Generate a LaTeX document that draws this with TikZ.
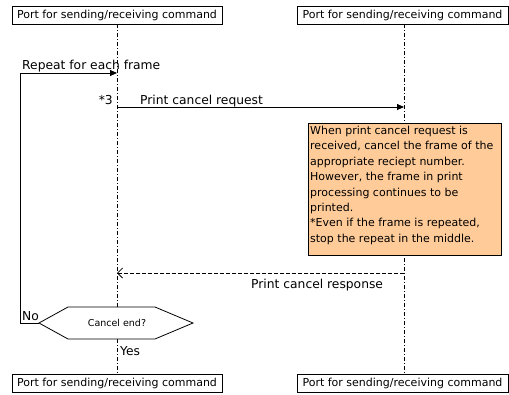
\documentclass[tikz,border=0pt]{standalone}
\usepackage{fontspec}
\setmainfont{DejaVu Sans}
\usetikzlibrary{arrows.meta}
\definecolor{notefill}{HTML}{FFCC99}
\tikzset{
  portbox/.style={draw, line width=0.8pt, fill=white, minimum width=210pt, minimum height=18pt, inner sep=0pt, font=\fontsize{11}{13}\selectfont},
  lifeline/.style={line width=0.7pt, dash pattern=on 4pt off 2pt on 1pt off 2pt},
  msg/.style={line width=0.8pt, -{Triangle[length=7pt,width=6pt]}},
  reply/.style={line width=0.8pt, dash pattern=on 4pt off 2pt, -{Straight Barb[length=5pt,width=10pt]}},
  lbl/.style={inner sep=0pt, font=\fontsize{12.3}{14}\selectfont},
  note/.style={draw, line width=0.8pt, fill=notefill, minimum width=193pt, minimum height=132pt, inner sep=0pt},
  notetext/.style={inner sep=0pt, align=left, font=\fontsize{11}{15.4}\selectfont},
  decision/.style={draw, line width=0.8pt, fill=white}
}
\begin{document}
\begin{tikzpicture}[x=1pt, y=-1pt]
  \useasboundingbox (0,0) rectangle (509,394);

  % participant boxes
  \node[portbox] (tl) at (117,15) {Port for sending/receiving command};
  \node[portbox, minimum width=211pt] (tr) at (402.5,15) {Port for sending/receiving command};
  \node[portbox] (bl) at (117,383) {Port for sending/receiving command};
  \node[portbox, minimum width=211pt] (br) at (402.5,383) {Port for sending/receiving command};

  % lifelines
  \coordinate (lA) at (117,24);
  \coordinate (lB) at (404,24);
  \coordinate (lAe) at (117,374);
  \coordinate (lBe) at (404,374);
  \draw[lifeline] (lA) -- (lAe);
  \draw[lifeline] (lB) -- (lBe);

  % request message
  \coordinate (reqS) at (117,107);
  \coordinate (reqE) at (404,107);
  \draw[msg] (reqS) -- (reqE);
  \node[lbl, anchor=base east] (star3) at (113,104) {*3};
  \node[lbl, anchor=base west] (reqlbl) at (140,104) {Print cancel request};

  % note on the receiving side
  \node[note, anchor=north west] (notebox) at (308,123) {};
  \node[notetext, anchor=north west] (notetxt) at (310,126)
    {When print cancel request is\\
     received, cancel the frame of the\\
     appropriate reciept number.\\
     However, the frame in print\\
     processing continues to be\\
     printed.\\
     *Even if the frame is repeated,\\
     stop the repeat in the middle.};

  % response message
  \coordinate (resS) at (404,273);
  \coordinate (resE) at (117,273);
  \draw[reply] (resS) -- (resE);
  \node[lbl, anchor=base west] (reslbl) at (251,288) {Print cancel response};

  % decision hexagon
  \coordinate (hW) at (39,323);
  \coordinate (hNW) at (68,307);
  \coordinate (hNE) at (155,307);
  \coordinate (hE) at (193,323);
  \coordinate (hSE) at (155,339);
  \coordinate (hSW) at (68,339);
  \draw[decision] (hW) -- (hNW) -- (hNE) -- (hE) -- (hSE) -- (hSW) -- cycle;
  \node[inner sep=0pt, font=\fontsize{9.5}{11}\selectfont] (dec) at (117,323) {Cancel end?};

  % repeat loop
  \coordinate (loopB) at (20,323);
  \coordinate (loopT) at (20,73);
  \coordinate (loopE) at (117,73);
  \draw[msg] (hW) -- (loopB) -- (loopT) -- (loopE);
  \node[lbl, anchor=base west] (rep) at (22,69) {Repeat for each frame};
  \node[lbl, anchor=base west] (no) at (22,320) {No};
  \node[lbl, anchor=base west] (yes) at (120,355) {Yes};
\end{tikzpicture}
\end{document}
